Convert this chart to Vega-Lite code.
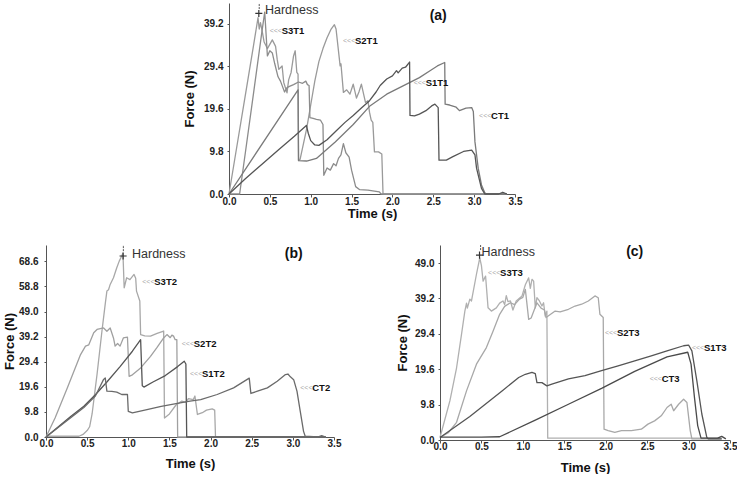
{
"$schema": "https://vega.github.io/schema/vega-lite/v6.json",
"padding": {"left": 3, "top": 2, "right": 0, "bottom": 0},
"background": "white",
"config": {
 "view": {"stroke": null},
 "font": "Liberation Sans",
 "axis": {"labelFont": "Liberation Sans", "labelFontWeight": "bold", "labelFontSize": 10, "labelColor": "#222", "titleFont": "Liberation Sans", "titleFontWeight": "bold", "titleFontSize": 13, "titleColor": "#111", "domainColor": "#555", "tickColor": "#555", "grid": false, "labelOverlap": false, "tickCount": 12},
 "axisX": {"labelFlush": false}
},
"datasets": {
 "a": [
  {"s":"S3T1","t":0,"f":0},{"s":"S3T1","t":0.1,"f":11.4},{"s":"S3T1","t":0.2,"f":22.8},{"s":"S3T1","t":0.3,"f":34.2},{"s":"S3T1","t":0.355,"f":40.6},{"s":"S3T1","t":0.37,"f":38},{"s":"S3T1","t":0.385,"f":39.5},{"s":"S3T1","t":0.41,"f":37.1},{"s":"S3T1","t":0.43,"f":35},{"s":"S3T1","t":0.47,"f":33.5},{"s":"S3T1","t":0.53,"f":35.5},{"s":"S3T1","t":0.57,"f":34},{"s":"S3T1","t":0.59,"f":31},{"s":"S3T1","t":0.61,"f":28.7},{"s":"S3T1","t":0.65,"f":29.5},{"s":"S3T1","t":0.67,"f":25.7},{"s":"S3T1","t":0.71,"f":23.3},{"s":"S3T1","t":0.73,"f":26.3},{"s":"S3T1","t":0.76,"f":28},{"s":"S3T1","t":0.79,"f":31.8},{"s":"S3T1","t":0.81,"f":33},{"s":"S3T1","t":0.83,"f":28},{"s":"S3T1","t":0.845,"f":27.6},{"s":"S3T1","t":0.852,"f":7.7},{"s":"S3T1","t":0.87,"f":8},{"s":"S3T1","t":0.95,"f":15},{"s":"S3T1","t":1.0,"f":20.5},{"s":"S3T1","t":1.05,"f":26},{"s":"S3T1","t":1.1,"f":30.5},{"s":"S3T1","t":1.15,"f":33.5},{"s":"S3T1","t":1.2,"f":36},{"s":"S3T1","t":1.25,"f":38},{"s":"S3T1","t":1.29,"f":39},{"s":"S3T1","t":1.31,"f":38},{"s":"S3T1","t":1.36,"f":29.5},{"s":"S3T1","t":1.37,"f":30},{"s":"S3T1","t":1.4,"f":23.4},{"s":"S3T1","t":1.44,"f":24},{"s":"S3T1","t":1.48,"f":23},{"s":"S3T1","t":1.52,"f":25.3},{"s":"S3T1","t":1.56,"f":22.1},{"s":"S3T1","t":1.59,"f":23.5},{"s":"S3T1","t":1.62,"f":25.3},{"s":"S3T1","t":1.67,"f":21.1},{"s":"S3T1","t":1.7,"f":21.5},{"s":"S3T1","t":1.72,"f":18.8},{"s":"S3T1","t":1.74,"f":17},{"s":"S3T1","t":1.76,"f":16.5},{"s":"S3T1","t":1.78,"f":9.7},{"s":"S3T1","t":1.83,"f":9.7},{"s":"S3T1","t":1.87,"f":9.2},{"s":"S3T1","t":1.885,"f":0},{"s":"S3T1","t":3.4,"f":0},
  {"s":"S2T1","t":0,"f":0},{"s":"S2T1","t":0.13,"f":0},{"s":"S2T1","t":0.2,"f":9.5},{"s":"S2T1","t":0.3,"f":23.2},{"s":"S2T1","t":0.4,"f":37},{"s":"S2T1","t":0.437,"f":41.9},{"s":"S2T1","t":0.45,"f":38},{"s":"S2T1","t":0.47,"f":31.8},{"s":"S2T1","t":0.5,"f":33},{"s":"S2T1","t":0.53,"f":32.5},{"s":"S2T1","t":0.56,"f":30},{"s":"S2T1","t":0.6,"f":27},{"s":"S2T1","t":0.63,"f":26},{"s":"S2T1","t":0.68,"f":23.5},{"s":"S2T1","t":0.71,"f":24.5},{"s":"S2T1","t":0.74,"f":24.8},{"s":"S2T1","t":0.79,"f":25.2},{"s":"S2T1","t":0.85,"f":25.8},{"s":"S2T1","t":0.9,"f":25.5},{"s":"S2T1","t":0.94,"f":26},{"s":"S2T1","t":0.96,"f":25.2},{"s":"S2T1","t":0.98,"f":25},{"s":"S2T1","t":0.99,"f":17.6},{"s":"S2T1","t":1.03,"f":17.4},{"s":"S2T1","t":1.07,"f":17.2},{"s":"S2T1","t":1.12,"f":17},{"s":"S2T1","t":1.15,"f":16},{"s":"S2T1","t":1.16,"f":4.3},{"s":"S2T1","t":1.2,"f":6},{"s":"S2T1","t":1.24,"f":5.5},{"s":"S2T1","t":1.28,"f":7},{"s":"S2T1","t":1.31,"f":6.5},{"s":"S2T1","t":1.34,"f":8.2},{"s":"S2T1","t":1.37,"f":9},{"s":"S2T1","t":1.4,"f":11.6},{"s":"S2T1","t":1.43,"f":9.5},{"s":"S2T1","t":1.47,"f":8.5},{"s":"S2T1","t":1.5,"f":5.5},{"s":"S2T1","t":1.55,"f":1.7},{"s":"S2T1","t":1.6,"f":1},{"s":"S2T1","t":1.7,"f":0.9},{"s":"S2T1","t":1.84,"f":0.5},{"s":"S2T1","t":1.86,"f":0},{"s":"S2T1","t":3.4,"f":0},
  {"s":"S1T1","t":0,"f":0},{"s":"S1T1","t":0.845,"f":24},{"s":"S1T1","t":0.85,"f":7.7},{"s":"S1T1","t":0.95,"f":7.6},{"s":"S1T1","t":1.07,"f":8.2},{"s":"S1T1","t":1.15,"f":9.5},{"s":"S1T1","t":1.3,"f":12},{"s":"S1T1","t":1.52,"f":16},{"s":"S1T1","t":1.72,"f":20.2},{"s":"S1T1","t":1.93,"f":23},{"s":"S1T1","t":2.13,"f":24.9},{"s":"S1T1","t":2.33,"f":26.8},{"s":"S1T1","t":2.46,"f":28.4},{"s":"S1T1","t":2.55,"f":29.5},{"s":"S1T1","t":2.64,"f":30.3},{"s":"S1T1","t":2.645,"f":20.7},{"s":"S1T1","t":2.7,"f":20.5},{"s":"S1T1","t":2.78,"f":20},{"s":"S1T1","t":2.82,"f":19.2},{"s":"S1T1","t":2.86,"f":19.5},{"s":"S1T1","t":2.9,"f":19.8},{"s":"S1T1","t":2.97,"f":19.9},{"s":"S1T1","t":2.99,"f":19},{"s":"S1T1","t":3.01,"f":12},{"s":"S1T1","t":3.05,"f":5.9},{"s":"S1T1","t":3.09,"f":2.1},{"s":"S1T1","t":3.13,"f":0.3},{"s":"S1T1","t":3.15,"f":0},{"s":"S1T1","t":3.4,"f":0},
  {"s":"CT1","t":0,"f":0},{"s":"CT1","t":0.2,"f":3.5},{"s":"CT1","t":0.4,"f":6.8},{"s":"CT1","t":0.6,"f":10.1},{"s":"CT1","t":0.8,"f":13.3},{"s":"CT1","t":0.947,"f":15.8},{"s":"CT1","t":0.97,"f":14},{"s":"CT1","t":1.0,"f":12.3},{"s":"CT1","t":1.05,"f":11.3},{"s":"CT1","t":1.1,"f":11.2},{"s":"CT1","t":1.2,"f":12.5},{"s":"CT1","t":1.31,"f":14.5},{"s":"CT1","t":1.42,"f":16.5},{"s":"CT1","t":1.52,"f":18.1},{"s":"CT1","t":1.62,"f":19.8},{"s":"CT1","t":1.72,"f":21.5},{"s":"CT1","t":1.8,"f":23.5},{"s":"CT1","t":1.85,"f":25},{"s":"CT1","t":1.93,"f":26.5},{"s":"CT1","t":2.0,"f":27.2},{"s":"CT1","t":2.05,"f":28.4},{"s":"CT1","t":2.07,"f":27.9},{"s":"CT1","t":2.12,"f":29},{"s":"CT1","t":2.16,"f":29.2},{"s":"CT1","t":2.21,"f":30.4},{"s":"CT1","t":2.215,"f":18.1},{"s":"CT1","t":2.27,"f":18},{"s":"CT1","t":2.33,"f":18.4},{"s":"CT1","t":2.41,"f":19.2},{"s":"CT1","t":2.48,"f":20.3},{"s":"CT1","t":2.52,"f":20.7},{"s":"CT1","t":2.56,"f":19.9},{"s":"CT1","t":2.57,"f":7.8},{"s":"CT1","t":2.66,"f":7.8},{"s":"CT1","t":2.74,"f":8.6},{"s":"CT1","t":2.87,"f":9.8},{"s":"CT1","t":2.97,"f":10.1},{"s":"CT1","t":3.01,"f":9},{"s":"CT1","t":3.03,"f":5.9},{"s":"CT1","t":3.09,"f":1.3},{"s":"CT1","t":3.13,"f":0},{"s":"CT1","t":3.3,"f":0},{"s":"CT1","t":3.35,"f":0.4},{"s":"CT1","t":3.4,"f":0}
 ],
 "b": [
  {"s":"S3T2","t":0,"f":0.3},{"s":"S3T2","t":0.4,"f":0.3},{"s":"S3T2","t":0.45,"f":1},{"s":"S3T2","t":0.5,"f":2.5},{"s":"S3T2","t":0.53,"f":4},{"s":"S3T2","t":0.56,"f":9},{"s":"S3T2","t":0.62,"f":24.4},{"s":"S3T2","t":0.68,"f":41.4},{"s":"S3T2","t":0.72,"f":52},{"s":"S3T2","t":0.74,"f":57},{"s":"S3T2","t":0.76,"f":57.5},{"s":"S3T2","t":0.78,"f":59.6},{"s":"S3T2","t":0.82,"f":62.2},{"s":"S3T2","t":0.86,"f":66.1},{"s":"S3T2","t":0.89,"f":68.7},{"s":"S3T2","t":0.92,"f":70.7},{"s":"S3T2","t":0.935,"f":71.8},{"s":"S3T2","t":0.95,"f":58.3},{"s":"S3T2","t":0.98,"f":62.2},{"s":"S3T2","t":1.02,"f":61.5},{"s":"S3T2","t":1.07,"f":63.5},{"s":"S3T2","t":1.09,"f":62},{"s":"S3T2","t":1.1,"f":57},{"s":"S3T2","t":1.14,"f":53.1},{"s":"S3T2","t":1.15,"f":40},{"s":"S3T2","t":1.2,"f":39.5},{"s":"S3T2","t":1.27,"f":39.4},{"s":"S3T2","t":1.35,"f":40.5},{"s":"S3T2","t":1.43,"f":41.4},{"s":"S3T2","t":1.44,"f":7.4},{"s":"S3T2","t":1.5,"f":9},{"s":"S3T2","t":1.58,"f":12.5},{"s":"S3T2","t":1.65,"f":14},{"s":"S3T2","t":1.7,"f":13.5},{"s":"S3T2","t":1.73,"f":15},{"s":"S3T2","t":1.79,"f":14.6},{"s":"S3T2","t":1.81,"f":16},{"s":"S3T2","t":1.84,"f":8.8},{"s":"S3T2","t":1.9,"f":9.5},{"s":"S3T2","t":1.95,"f":10.5},{"s":"S3T2","t":2.02,"f":11},{"s":"S3T2","t":2.05,"f":10.5},{"s":"S3T2","t":2.06,"f":0},{"s":"S3T2","t":3.4,"f":0},
  {"s":"S2T2","t":0,"f":0},{"s":"S2T2","t":0.11,"f":7.4},{"s":"S2T2","t":0.26,"f":19.2},{"s":"S2T2","t":0.42,"f":32.2},{"s":"S2T2","t":0.48,"f":35.5},{"s":"S2T2","t":0.52,"f":36},{"s":"S2T2","t":0.58,"f":40.7},{"s":"S2T2","t":0.62,"f":42},{"s":"S2T2","t":0.7,"f":42.6},{"s":"S2T2","t":0.74,"f":41.3},{"s":"S2T2","t":0.78,"f":42.6},{"s":"S2T2","t":0.82,"f":38.7},{"s":"S2T2","t":0.84,"f":35.5},{"s":"S2T2","t":0.87,"f":36.5},{"s":"S2T2","t":0.9,"f":35.5},{"s":"S2T2","t":0.94,"f":38.7},{"s":"S2T2","t":0.99,"f":39},{"s":"S2T2","t":1.01,"f":23.7},{"s":"S2T2","t":1.05,"f":24.3},{"s":"S2T2","t":1.15,"f":27},{"s":"S2T2","t":1.27,"f":31.5},{"s":"S2T2","t":1.35,"f":35},{"s":"S2T2","t":1.43,"f":38.7},{"s":"S2T2","t":1.47,"f":40},{"s":"S2T2","t":1.51,"f":38.8},{"s":"S2T2","t":1.53,"f":39.8},{"s":"S2T2","t":1.55,"f":39.4},{"s":"S2T2","t":1.57,"f":38},{"s":"S2T2","t":1.59,"f":38},{"s":"S2T2","t":1.6,"f":0},{"s":"S2T2","t":3.4,"f":0},
  {"s":"S1T2","t":0,"f":0},{"s":"S1T2","t":0.3,"f":8},{"s":"S1T2","t":0.46,"f":12},{"s":"S1T2","t":0.6,"f":16.5},{"s":"S1T2","t":0.74,"f":21.5},{"s":"S1T2","t":0.9,"f":27.5},{"s":"S1T2","t":1.05,"f":33.5},{"s":"S1T2","t":1.15,"f":38},{"s":"S1T2","t":1.17,"f":20},{"s":"S1T2","t":1.19,"f":19.5},{"s":"S1T2","t":1.3,"f":21.5},{"s":"S1T2","t":1.45,"f":24},{"s":"S1T2","t":1.6,"f":27.5},{"s":"S1T2","t":1.68,"f":29.6},{"s":"S1T2","t":1.7,"f":28.5},{"s":"S1T2","t":1.71,"f":0},{"s":"S1T2","t":3.4,"f":0},
  {"s":"CT2","t":0,"f":0},{"s":"CT2","t":0.3,"f":7.5},{"s":"CT2","t":0.46,"f":11.5},{"s":"CT2","t":0.6,"f":16},{"s":"CT2","t":0.7,"f":22.5},{"s":"CT2","t":0.72,"f":23.1},{"s":"CT2","t":0.74,"f":17.9},{"s":"CT2","t":0.8,"f":17.8},{"s":"CT2","t":0.86,"f":17.5},{"s":"CT2","t":0.92,"f":16.6},{"s":"CT2","t":0.99,"f":16.6},{"s":"CT2","t":1.0,"f":10},{"s":"CT2","t":1.05,"f":9.4},{"s":"CT2","t":1.2,"f":10.5},{"s":"CT2","t":1.4,"f":12},{"s":"CT2","t":1.63,"f":13.3},{"s":"CT2","t":1.75,"f":14},{"s":"CT2","t":1.88,"f":14.6},{"s":"CT2","t":2.08,"f":16.6},{"s":"CT2","t":2.28,"f":19.2},{"s":"CT2","t":2.47,"f":23},{"s":"CT2","t":2.49,"f":17},{"s":"CT2","t":2.57,"f":17.9},{"s":"CT2","t":2.69,"f":19.2},{"s":"CT2","t":2.81,"f":21.8},{"s":"CT2","t":2.91,"f":24.4},{"s":"CT2","t":2.94,"f":24.6},{"s":"CT2","t":2.97,"f":23.5},{"s":"CT2","t":3.01,"f":22.4},{"s":"CT2","t":3.05,"f":17.9},{"s":"CT2","t":3.09,"f":10},{"s":"CT2","t":3.13,"f":2.2},{"s":"CT2","t":3.15,"f":0.3},{"s":"CT2","t":3.3,"f":0},{"s":"CT2","t":3.35,"f":0.5},{"s":"CT2","t":3.4,"f":0}
 ],
 "c": [
  {"s":"S3T3","t":0,"f":0.7},{"s":"S3T3","t":0.12,"f":10.9},{"s":"S3T3","t":0.2,"f":20},{"s":"S3T3","t":0.26,"f":29.3},{"s":"S3T3","t":0.3,"f":35.7},{"s":"S3T3","t":0.32,"f":37.9},{"s":"S3T3","t":0.33,"f":36.5},{"s":"S3T3","t":0.36,"f":39},{"s":"S3T3","t":0.38,"f":38.5},{"s":"S3T3","t":0.44,"f":45.9},{"s":"S3T3","t":0.48,"f":50.4},{"s":"S3T3","t":0.5,"f":48.3},{"s":"S3T3","t":0.52,"f":44},{"s":"S3T3","t":0.55,"f":45.4},{"s":"S3T3","t":0.58,"f":36.6},{"s":"S3T3","t":0.62,"f":35.7},{"s":"S3T3","t":0.68,"f":36.6},{"s":"S3T3","t":0.72,"f":37.9},{"s":"S3T3","t":0.76,"f":38.5},{"s":"S3T3","t":0.78,"f":37.5},{"s":"S3T3","t":0.8,"f":40},{"s":"S3T3","t":0.82,"f":38.3},{"s":"S3T3","t":0.85,"f":38.5},{"s":"S3T3","t":0.88,"f":36},{"s":"S3T3","t":0.92,"f":38.5},{"s":"S3T3","t":0.99,"f":39.9},{"s":"S3T3","t":1.03,"f":43},{"s":"S3T3","t":1.07,"f":44.9},{"s":"S3T3","t":1.09,"f":42},{"s":"S3T3","t":1.11,"f":44.5},{"s":"S3T3","t":1.13,"f":44},{"s":"S3T3","t":1.15,"f":36.6},{"s":"S3T3","t":1.17,"f":39.4},{"s":"S3T3","t":1.2,"f":38.5},{"s":"S3T3","t":1.23,"f":37.1},{"s":"S3T3","t":1.25,"f":38},{"s":"S3T3","t":1.27,"f":34.3},{"s":"S3T3","t":1.29,"f":35.7},{"s":"S3T3","t":1.3,"f":0.5},{"s":"S3T3","t":3.4,"f":0.5},
  {"s":"S2T3","t":0,"f":0.7},{"s":"S2T3","t":0.1,"f":2},{"s":"S2T3","t":0.2,"f":4.9},{"s":"S2T3","t":0.32,"f":13.6},{"s":"S2T3","t":0.44,"f":21},{"s":"S2T3","t":0.56,"f":25.6},{"s":"S2T3","t":0.64,"f":30.1},{"s":"S2T3","t":0.72,"f":34.8},{"s":"S2T3","t":0.78,"f":37},{"s":"S2T3","t":0.85,"f":38},{"s":"S2T3","t":0.9,"f":37.5},{"s":"S2T3","t":0.96,"f":39},{"s":"S2T3","t":1.0,"f":39.5},{"s":"S2T3","t":1.03,"f":41.7},{"s":"S2T3","t":1.07,"f":33.4},{"s":"S2T3","t":1.1,"f":33.8},{"s":"S2T3","t":1.17,"f":38},{"s":"S2T3","t":1.22,"f":36.5},{"s":"S2T3","t":1.26,"f":36},{"s":"S2T3","t":1.28,"f":33.9},{"s":"S2T3","t":1.39,"f":35.7},{"s":"S2T3","t":1.45,"f":35.5},{"s":"S2T3","t":1.55,"f":36.2},{"s":"S2T3","t":1.63,"f":37.1},{"s":"S2T3","t":1.71,"f":37.6},{"s":"S2T3","t":1.79,"f":38.5},{"s":"S2T3","t":1.87,"f":39.9},{"s":"S2T3","t":1.91,"f":39.4},{"s":"S2T3","t":1.93,"f":34.8},{"s":"S2T3","t":1.97,"f":33.9},{"s":"S2T3","t":1.98,"f":3},{"s":"S2T3","t":2.03,"f":2.6},{"s":"S2T3","t":2.11,"f":2.1},{"s":"S2T3","t":2.19,"f":2.6},{"s":"S2T3","t":2.31,"f":2.6},{"s":"S2T3","t":2.43,"f":3},{"s":"S2T3","t":2.51,"f":4.4},{"s":"S2T3","t":2.59,"f":5.3},{"s":"S2T3","t":2.67,"f":6.7},{"s":"S2T3","t":2.74,"f":9},{"s":"S2T3","t":2.79,"f":9.9},{"s":"S2T3","t":2.82,"f":8.1},{"s":"S2T3","t":2.88,"f":9.9},{"s":"S2T3","t":2.94,"f":11.3},{"s":"S2T3","t":2.98,"f":10.4},{"s":"S2T3","t":3.02,"f":2.6},{"s":"S2T3","t":3.04,"f":0.3},{"s":"S2T3","t":3.4,"f":0.3},
  {"s":"S1T3","t":0,"f":0.7},{"s":"S1T3","t":0.36,"f":6.5},{"s":"S1T3","t":0.76,"f":13.8},{"s":"S1T3","t":0.95,"f":17.3},{"s":"S1T3","t":1.03,"f":18.2},{"s":"S1T3","t":1.11,"f":18.7},{"s":"S1T3","t":1.15,"f":18.4},{"s":"S1T3","t":1.17,"f":15.9},{"s":"S1T3","t":1.23,"f":15.9},{"s":"S1T3","t":1.29,"f":15},{"s":"S1T3","t":1.35,"f":15.5},{"s":"S1T3","t":1.55,"f":16.9},{"s":"S1T3","t":1.75,"f":17.8},{"s":"S1T3","t":1.95,"f":19.2},{"s":"S1T3","t":2.15,"f":20.5},{"s":"S1T3","t":2.35,"f":21.9},{"s":"S1T3","t":2.55,"f":23.3},{"s":"S1T3","t":2.74,"f":24.7},{"s":"S1T3","t":2.94,"f":26.1},{"s":"S1T3","t":3.0,"f":26.3},{"s":"S1T3","t":3.04,"f":24.7},{"s":"S1T3","t":3.1,"f":16.4},{"s":"S1T3","t":3.16,"f":7.2},{"s":"S1T3","t":3.22,"f":0.7},{"s":"S1T3","t":3.24,"f":0.3},{"s":"S1T3","t":3.4,"f":0.3},
  {"s":"CT3","t":0,"f":0.8},{"s":"CT3","t":0.5,"f":0.8},{"s":"CT3","t":0.72,"f":0.9},{"s":"CT3","t":1.15,"f":5.5},{"s":"CT3","t":1.55,"f":9.9},{"s":"CT3","t":1.95,"f":14.3},{"s":"CT3","t":2.35,"f":19},{"s":"CT3","t":2.74,"f":23},{"s":"CT3","t":2.99,"f":24.3},{"s":"CT3","t":3.03,"f":21},{"s":"CT3","t":3.07,"f":12},{"s":"CT3","t":3.11,"f":4},{"s":"CT3","t":3.15,"f":0.5},{"s":"CT3","t":3.35,"f":0.5},{"s":"CT3","t":3.4,"f":1},{"s":"CT3","t":3.45,"f":0.3}
 ],
 "la": [{"t":0.498,"f":37.6,"name":"S3T1"},{"t":1.395,"f":35.2,"name":"S2T1"},{"t":2.26,"f":25.5,"name":"S1T1"},{"t":3.06,"f":17.9,"name":"CT1"}],
 "lb": [{"t":1.17,"f":60.5,"name":"S3T2"},{"t":1.65,"f":36.4,"name":"S2T2"},{"t":1.75,"f":24.8,"name":"S1T2"},{"t":3.09,"f":19.2,"name":"CT2"}],
 "lc": [{"t":0.58,"f":46.3,"name":"S3T3"},{"t":1.99,"f":29.7,"name":"S2T3"},{"t":3.04,"f":25.6,"name":"S1T3"},{"t":2.53,"f":16.9,"name":"CT3"}]
},
"spacing": 24,
"vconcat": [
 {"spacing": 0, "hconcat": [
  {"width": 137, "height": 10, "data": {"values": [{}]}, "mark": {"type": "point", "opacity": 0}},
  {"width": 286, "height": 191,
   "layer": [
    {"data": {"name": "a"}, "mark": {"type": "line", "strokeWidth": 1.3, "strokeJoin": "round"},
     "encoding": {
      "x": {"field": "t", "type": "quantitative", "scale": {"domain": [0, 3.5], "nice": false}, "axis": {"values": [0, 0.5, 1, 1.5, 2, 2.5, 3, 3.5], "tickCount": 12, "format": ".1f", "title": "Time (s)", "tickSize": 3, "labelPadding": -1, "titlePadding": 1, "labelOverlap": false}},
      "y": {"field": "f", "type": "quantitative", "scale": {"domain": [0, 44], "nice": false}, "axis": {"values": [0, 9.8, 19.6, 29.4, 39.2], "tickCount": 12, "format": ".1f", "title": "Force (N)", "tickSize": 2, "labelPadding": 4, "titlePadding": 7, "labelOverlap": false}},
      "color": {"field": "s", "type": "nominal", "legend": null, "scale": {"domain": ["S3T1","S2T1","S1T1","CT1","S3T2","S2T2","S1T2","CT2","S3T3","S2T3","S1T3","CT3"], "range": ["#9a9a9a","#8c8c8c","#7a7a7a","#555555","#a8a8a8","#a0a0a0","#555555","#6a6a6a","#b0b0b0","#a8a8a8","#555555","#4a4a4a"]}},
      "order": {"value": null}}},
    {"data": {"name": "la"}, "mark": {"type": "text", "text": "<<<", "align": "left", "baseline": "middle", "fontSize": 7, "color": "#aaa"}, "encoding": {"x": {"field": "t", "type": "quantitative"}, "y": {"field": "f", "type": "quantitative"}}},
    {"data": {"name": "la"}, "mark": {"type": "text", "align": "left", "baseline": "middle", "dx": 12, "fontSize": 9.5, "fontWeight": "bold", "color": "#111"}, "encoding": {"x": {"field": "t", "type": "quantitative"}, "y": {"field": "f", "type": "quantitative"}, "text": {"field": "name"}}},
    {"data": {"values": [{}]}, "mark": {"type": "text", "text": "Hardness", "align": "left", "baseline": "middle", "fontSize": 12.5, "color": "#333"}, "encoding": {"x": {"datum": 0.44}, "y": {"datum": 42.3}}},
    {"data": {"values": [{}]}, "mark": {"type": "text", "text": "(a)", "align": "center", "baseline": "middle", "fontSize": 14, "fontWeight": "bold", "color": "#111"}, "encoding": {"x": {"datum": 2.56}, "y": {"datum": 41.1}}},
    {"data": {"values": [{}]}, "mark": {"type": "point", "shape": "M-1,0H1M0,-1V1", "filled": false, "size": 50, "stroke": "#333", "strokeWidth": 1.2, "opacity": 1}, "encoding": {"x": {"datum": 0.365}, "y": {"datum": 41.6}}},
    {"data": {"values": [{}]}, "mark": {"type": "rule", "stroke": "#555", "strokeWidth": 1, "strokeDash": [2, 1]}, "encoding": {"x": {"datum": 0.37}, "y": {"datum": 42.6}, "y2": {"datum": 44}}}
   ]}
 ]},
 {"spacing": 55, "hconcat": [
  {"width": 288, "height": 192,
   "layer": [
    {"data": {"name": "b"}, "mark": {"type": "line", "strokeWidth": 1.3, "strokeJoin": "round"},
     "encoding": {
      "x": {"field": "t", "type": "quantitative", "scale": {"domain": [0, 3.5], "nice": false}, "axis": {"values": [0, 0.5, 1, 1.5, 2, 2.5, 3, 3.5], "tickCount": 12, "format": ".1f", "title": "Time (s)", "tickSize": 3, "labelPadding": -2, "titlePadding": 9, "labelOverlap": false}},
      "y": {"field": "f", "type": "quantitative", "scale": {"domain": [0, 75], "nice": false}, "axis": {"values": [0, 9.8, 19.6, 29.4, 39.2, 49, 58.8, 68.6], "tickCount": 12, "format": ".1f", "title": "Force (N)", "tickSize": 2, "labelPadding": 6, "titlePadding": 2, "labelOverlap": false}},
      "color": {"field": "s", "type": "nominal", "legend": null, "scale": {"domain": ["S3T1","S2T1","S1T1","CT1","S3T2","S2T2","S1T2","CT2","S3T3","S2T3","S1T3","CT3"], "range": ["#9a9a9a","#8c8c8c","#7a7a7a","#555555","#a8a8a8","#a0a0a0","#555555","#6a6a6a","#b0b0b0","#a8a8a8","#555555","#4a4a4a"]}},
      "order": {"value": null}}},
    {"data": {"name": "lb"}, "mark": {"type": "text", "text": "<<<", "align": "left", "baseline": "middle", "fontSize": 7, "color": "#aaa"}, "encoding": {"x": {"field": "t", "type": "quantitative"}, "y": {"field": "f", "type": "quantitative"}}},
    {"data": {"name": "lb"}, "mark": {"type": "text", "align": "left", "baseline": "middle", "dx": 12, "fontSize": 9.5, "fontWeight": "bold", "color": "#111"}, "encoding": {"x": {"field": "t", "type": "quantitative"}, "y": {"field": "f", "type": "quantitative"}, "text": {"field": "name"}}},
    {"data": {"values": [{}]}, "mark": {"type": "text", "text": "Hardness", "align": "left", "baseline": "middle", "fontSize": 12.5, "color": "#333"}, "encoding": {"x": {"datum": 1.045}, "y": {"datum": 71.6}}},
    {"data": {"values": [{}]}, "mark": {"type": "text", "text": "(b)", "align": "center", "baseline": "middle", "fontSize": 14, "fontWeight": "bold", "color": "#111"}, "encoding": {"x": {"datum": 3.01}, "y": {"datum": 71.6}}},
    {"data": {"values": [{}]}, "mark": {"type": "point", "shape": "M-1,0H1M0,-1V1", "filled": false, "size": 50, "stroke": "#333", "strokeWidth": 1.2, "opacity": 1}, "encoding": {"x": {"datum": 0.937}, "y": {"datum": 70.7}}},
    {"data": {"values": [{}]}, "mark": {"type": "rule", "stroke": "#555", "strokeWidth": 1, "strokeDash": [2, 1]}, "encoding": {"x": {"datum": 0.94}, "y": {"datum": 72.6}, "y2": {"datum": 75}}}
   ]},
  {"width": 290, "height": 195,
   "layer": [
    {"data": {"name": "c"}, "mark": {"type": "line", "strokeWidth": 1.3, "strokeJoin": "round"},
     "encoding": {
      "x": {"field": "t", "type": "quantitative", "scale": {"domain": [0, 3.5], "nice": false}, "axis": {"values": [0, 0.5, 1, 1.5, 2, 2.5, 3, 3.5], "tickCount": 12, "format": ".1f", "title": "Time (s)", "tickSize": 3, "labelPadding": -2, "titlePadding": 10, "labelOverlap": false}},
      "y": {"field": "f", "type": "quantitative", "scale": {"domain": [0, 54], "nice": false}, "axis": {"values": [0, 9.8, 19.6, 29.4, 39.2, 49], "tickCount": 12, "format": ".1f", "title": "Force (N)", "tickSize": 2, "labelPadding": 4, "titlePadding": 5, "labelOverlap": false}},
      "color": {"field": "s", "type": "nominal", "legend": null, "scale": {"domain": ["S3T1","S2T1","S1T1","CT1","S3T2","S2T2","S1T2","CT2","S3T3","S2T3","S1T3","CT3"], "range": ["#9a9a9a","#8c8c8c","#7a7a7a","#555555","#a8a8a8","#a0a0a0","#555555","#6a6a6a","#b0b0b0","#a8a8a8","#555555","#4a4a4a"]}},
      "order": {"value": null}}},
    {"data": {"name": "lc"}, "mark": {"type": "text", "text": "<<<", "align": "left", "baseline": "middle", "fontSize": 7, "color": "#aaa"}, "encoding": {"x": {"field": "t", "type": "quantitative"}, "y": {"field": "f", "type": "quantitative"}}},
    {"data": {"name": "lc"}, "mark": {"type": "text", "align": "left", "baseline": "middle", "dx": 12, "fontSize": 9.5, "fontWeight": "bold", "color": "#111"}, "encoding": {"x": {"field": "t", "type": "quantitative"}, "y": {"field": "f", "type": "quantitative"}, "text": {"field": "name"}}},
    {"data": {"values": [{}]}, "mark": {"type": "text", "text": "Hardness", "align": "left", "baseline": "middle", "fontSize": 12.5, "color": "#333"}, "encoding": {"x": {"datum": 0.5}, "y": {"datum": 52.1}}},
    {"data": {"values": [{}]}, "mark": {"type": "text", "text": "(c)", "align": "center", "baseline": "middle", "fontSize": 14, "fontWeight": "bold", "color": "#111"}, "encoding": {"x": {"datum": 2.35}, "y": {"datum": 52.1}}},
    {"data": {"values": [{}]}, "mark": {"type": "point", "shape": "M-1,0H1M0,-1V1", "filled": false, "size": 50, "stroke": "#333", "strokeWidth": 1.2, "opacity": 1}, "encoding": {"x": {"datum": 0.477}, "y": {"datum": 51.2}}},
    {"data": {"values": [{}]}, "mark": {"type": "rule", "stroke": "#555", "strokeWidth": 1, "strokeDash": [2, 1]}, "encoding": {"x": {"datum": 0.49}, "y": {"datum": 52.6}, "y2": {"datum": 54}}}
   ]}
 ]}
]
}
